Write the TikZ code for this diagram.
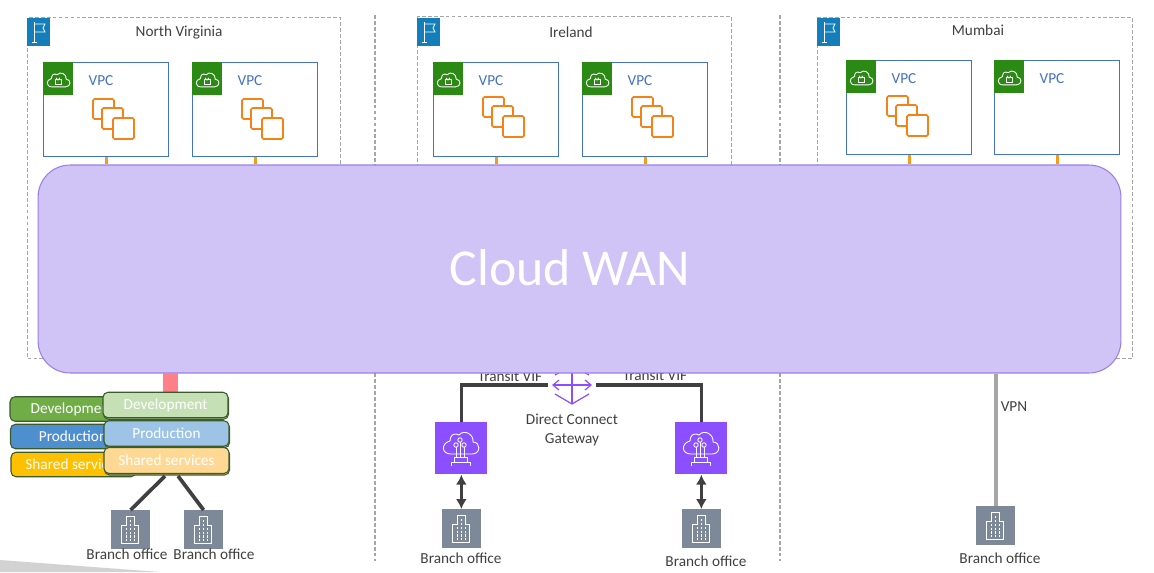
\documentclass[tikz,border=0pt]{standalone}
\usepackage{fontspec}
\setmainfont{Carlito}
\usepackage{xcolor}
\usetikzlibrary{arrows.meta,shadows}

\definecolor{txtgray}{HTML}{404040}
\definecolor{wanfill}{HTML}{D0C3F5}
\definecolor{wanline}{HTML}{9B7FE8}
\definecolor{flagblue}{HTML}{147EBA}
\definecolor{vpcline}{HTML}{4472C4}
\definecolor{vpcgreen}{HTML}{2A8A14}
\definecolor{ec2orange}{HTML}{F58216}
\definecolor{stuborange}{HTML}{F59D0E}
\definecolor{dxpurple}{HTML}{8C4FFF}
\definecolor{bldggray}{HTML}{7D8998}
\definecolor{tagline}{HTML}{3B5B2B}
\definecolor{devdark}{HTML}{70AD47}
\definecolor{proddark}{HTML}{4E8FCF}
\definecolor{shdark}{HTML}{FFC000}
\definecolor{devlight}{HTML}{C5E0B4}
\definecolor{prodlight}{HTML}{9DC3E6}
\definecolor{shlight}{HTML}{FFD993}
\definecolor{pinkbar}{HTML}{FF8088}
\definecolor{dashgray}{HTML}{A6A6A6}

\tikzset{
    lbl/.style={font=\fontsize{8.7}{10.8}\selectfont, text=txtgray, inner sep=0pt},
    dashline/.style={draw=dashgray, line width=0.6pt, dash pattern=on 2.2pt off 1.2pt},
    regionbox/.style={dashline, anchor=north west, inner sep=0pt},
    flagtag/.style={fill=flagblue, anchor=north west, inner sep=0pt, minimum width=4.6mm, minimum height=5.6mm},
    vpcbox/.style={draw=vpcline, fill=white, line width=0.7pt, anchor=north west, inner sep=0pt, minimum width=25mm, minimum height=18.8mm},
    vpctag/.style={fill=vpcgreen, anchor=north west, inner sep=0pt, minimum width=6mm, minimum height=6.6mm},
    vpclbl/.style={lbl, text=vpcline},
    stub/.style={draw=stuborange, line width=1.7pt},
    tagback/.style={draw=tagline, rounded corners=1mm, line width=0.6pt, inner sep=0pt, text=white,
        minimum width=25mm, minimum height=4.9mm, font=\fontsize{8.7}{10}\selectfont},
    tagfront/.style={tagback, copy shadow={shadow xshift=0.1mm, shadow yshift=-0.3mm}},
    bldgbox/.style={fill=bldggray, anchor=north west, inner sep=0pt, minimum size=7.7mm},
    dxbox/.style={fill=dxpurple, anchor=north west, inner sep=0pt, minimum size=10.4mm},
    thickline/.style={draw=txtgray, line width=2.1pt},
    dblarrow/.style={draw=txtgray, line width=1.5pt, {Latex[length=2mm,width=2.2mm]}-{Latex[length=2mm,width=2.2mm]}},
    flagicon/.pic={
        \draw[white, line width=0.45pt] (7,4) -- (7,24) (5,24) -- (10,24);
        \draw[white, line width=0.45pt] (7,6) -- (18,6) -- (16,10) -- (18,14) -- (7,14);
    },
    cloudicon/.pic={
        \draw[white, line width=0.5pt] (8,24) -- (29,24) .. controls (38,24) and (38,12) .. (30,12)
            .. controls (31,4) and (21,-1) .. (16,5) .. controls (10,2) and (7,6) .. (7,11)
            .. controls (-2,13) and (-2,24) .. (8,24) -- cycle;
    },
    lockicon/.pic={
        \draw[white, line width=0.5pt] (0,0) rectangle (6,4.5);
        \draw[white, line width=0.5pt] (1.5,0) -- (1.5,-1) arc[start angle=180, end angle=0, radius=1.5] -- (4.5,0);
    },
    ec2icon/.pic={
        \draw[ec2orange, fill=white, line width=1pt, rounded corners=0.3mm] (0,0) rectangle (21,20);
        \draw[ec2orange, fill=white, line width=1pt, rounded corners=0.3mm] (9,9) rectangle (30,30);
        \draw[ec2orange, fill=white, line width=1pt, rounded corners=0.3mm] (20,19) rectangle (41,40);
    },
    bldgicon/.pic={
        \draw[white, line width=0.5pt] (10,33) -- (10,15) -- (15,15) -- (15,6) -- (23,6) -- (23,15) -- (27,15) -- (27,33) -- cycle;
        \foreach \wx in {15,19,23}
            \draw[white, line width=0.4pt, dash pattern=on 1.2pt off 1pt] (\wx,10) -- (\wx,31);
    },
    dxicon/.pic={
        \pic at (8,8) {cloudicon};
        \draw[white, line width=0.5pt] (25,20) -- (25,35) (21,25) -- (21,35) (29,25) -- (29,35);
        \draw[white, line width=0.5pt, fill=dxpurple] (25,18) circle (2.2) (21,23) circle (2.2) (29,23) circle (2.2);
        \draw[white, line width=0.5pt] (19,35) rectangle (32,40);
        \draw[white, line width=0.5pt] (16,44) -- (16,40) -- (35,40) -- (35,44);
    },
    gwicon/.pic={
        \draw[dxpurple, line width=0.7pt] (0,-12) -- (0,19) (-19,0) -- (19,0);
        \draw[dxpurple, line width=0.7pt] (-13,-5) -- (-19,0) -- (-13,5) (13,-5) -- (19,0) -- (13,5);
        \draw[dxpurple, line width=0.7pt] (-17,9) -- (0,19) -- (17,9) (-17,-10) -- (0,-20) -- (17,-10);
    }
}

\begin{document}
\begin{tikzpicture}[x=0.02cm, y=-0.02cm]
    \useasboundingbox (0,0) rectangle (1154,572);

    % Corner shape
    \fill[gray!35] (0,560) -- (160,572) -- (0,572) -- cycle;

    % Dashed separators
    \coordinate (sep1a) at (375,15);
    \coordinate (sep1b) at (375,561);
    \coordinate (sep2a) at (780,15);
    \coordinate (sep2b) at (780,561);
    \draw[dashline] (sep1a) -- (sep1b);
    \draw[dashline] (sep2a) -- (sep2b);

    % Regions
    \node[regionbox, minimum width=62.6mm, minimum height=68.2mm] (reg1) at (27,17) {};
    \node[regionbox, minimum width=62.8mm, minimum height=68.4mm] (reg2) at (417,16) {};
    \node[regionbox, minimum width=63mm, minimum height=68.2mm] (reg3) at (817,17) {};
    \foreach \tagname/\px/\py in {flag1/27/18,flag2/417/18,flag3/817/18} {
        \node[flagtag] (\tagname) at (\px,\py) {};
        \pic at (\tagname.north west) {flagicon};
    }
    \node[lbl] (reg1lbl) at (179,33) {North Virginia};
    \node[lbl] (reg2lbl) at (571,32.5) {Ireland};
    \node[lbl] (reg3lbl) at (978,30.5) {Mumbai};

    % VPCs
    \foreach \vname/\px/\py in {vpc1/43/62,vpc2/192/62,vpc3/433/62,vpc4/582/62,vpc5/846/60,vpc6/994/60} {
        \node[vpcbox] (\vname) at (\px,\py) {};
        \node[vpctag] (\vname tag) at (\px,\py) {};
        \pic[scale=0.64] at ({\px+4},{\py+9.5}) {cloudicon};
        \pic at ({\px+12},{\py+17.5}) {lockicon};
        \node[vpclbl] (\vname lbl) at ({\px+58},{\py+18.5}) {VPC};
    }

    % Instances
    \pic at (93,99) {ec2icon};
    \pic at (242,99) {ec2icon};
    \pic at (483,97) {ec2icon};
    \pic at (632,97) {ec2icon};
    \pic at (887,96) {ec2icon};

    % Transit VIF labels and gateway, under the WAN
    \node[lbl] (vif1) at (510,376.5) {Transit VIF};
    \node[lbl] (vif2) at (655,375.5) {Transit VIF};
    \node[inner sep=0pt, minimum size=9.4mm] (dcgw) at (572,385) {};
    \pic at (dcgw.center) {gwicon};

    % Cloud WAN
    \node[fill=wanfill, draw=wanline, line width=0.6pt, rounded corners=6.4mm, inner sep=0pt,
        minimum width=216.6mm, minimum height=41.6mm] (wan) at (579.5,269) {};
    \node[text=white, inner sep=0pt, font=\fontsize{29.5}{32}\selectfont] (wanlbl) at (570,268) {Cloud WAN};

    % VPC attachments
    \foreach \vname in {vpc1,vpc2,vpc3,vpc4,vpc5,vpc6}
        \draw[stub] (\vname.south) -- (\vname.south |- wan.north);

    % Branch buildings
    \foreach \bname/\px/\py/\lx/\ly in {bo1/111/510/127/554.5,bo2/184/510/214/554.5,bo3/442/509/461/558.5,bo4/682/509/706/561.5,bo5/976/506/1000/558.5} {
        \node[bldgbox] (\bname) at (\px,\py) {};
        \pic at (\bname.north west) {bldgicon};
        \node[lbl] (\bname lbl) at (\lx,\ly) {Branch office};
    }

    % Segment tags
    \node[tagback, fill=devdark] (devb) at (72.5,409) {Development};
    \node[tagback, fill=proddark] (prodb) at (73,436.5) {Production};
    \node[tagback, fill=shdark] (shb) at (73.5,464.5) {Shared services};
    \node[fill=pinkbar, inner sep=0pt, minimum width=3mm, minimum height=4mm] (pink) at (170.5,383) {};
    \node[tagfront, fill=devlight, minimum height=5.1mm] (devf) at (165.5,405) {Development};
    \node[tagfront, fill=prodlight, minimum height=5.1mm] (prodf) at (166.5,433.5) {Production};
    \node[tagfront, fill=shlight, minimum height=5.2mm] (shf) at (166.5,460.5) {Shared services};

    % Left branches
    \coordinate (shf1) at (165,476);
    \coordinate (shf2) at (178,476);
    \draw[thickline] (shf1) -- (bo1.north);
    \draw[thickline] (shf2) -- (bo2.north);

    % Direct Connect
    \node[dxbox] (dx1) at (435,422) {};
    \node[dxbox] (dx2) at (675,422) {};
    \pic at (dx1.north west) {dxicon};
    \pic at (dx2.north west) {dxicon};
    \draw[thickline, line width=2pt] (dx1.north) |- (dcgw.west);
    \draw[thickline, line width=2pt] (dx2.north) |- (dcgw.east);
    \draw[dblarrow] (dx1.south) -- (bo3.north -| dx1.south);
    \draw[dblarrow] (dx2.south) -- (bo4.north -| dx2.south);
    \node[lbl, align=center] (dcgwlbl) at (572,429.5) {Direct Connect\\Gateway};

    % VPN
    \draw[draw=black!35, line width=2.2pt] (bo5.north) -- (bo5.north |- wan.south);
    \node[lbl] (vpnlbl) at (1014,406.5) {VPN};
\end{tikzpicture}
\end{document}
